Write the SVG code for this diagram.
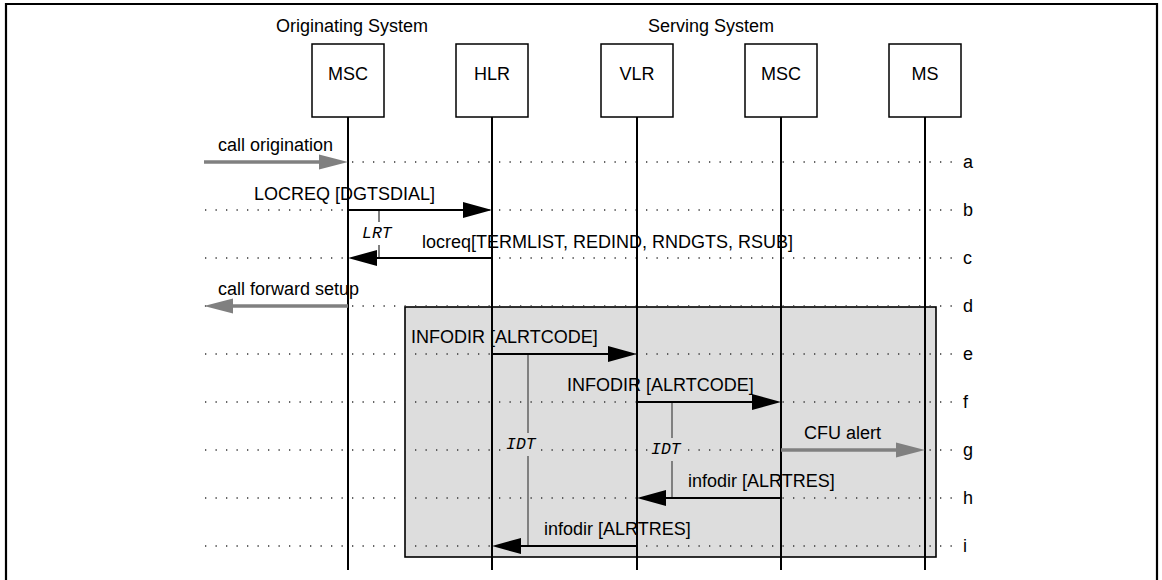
<svg xmlns="http://www.w3.org/2000/svg" width="1162" height="580" viewBox="0 0 1162 580">
<style>
text{font-family:"Liberation Sans",Arial,sans-serif;font-size:18px;fill:#000}
.mid{text-anchor:middle}
.box{fill:#fff;stroke:#000;stroke-width:1.5}
.life{stroke:#000;stroke-width:2;fill:none}
.dot{stroke:#333;stroke-width:1.3;stroke-dasharray:1.3 9.2;fill:none}
.msg{stroke:#000;stroke-width:2;fill:none;marker-end:url(#ah)}
.gmsg{stroke:#808080;stroke-width:3.5;fill:none;marker-end:url(#gah)}
.timer{stroke:#808080;stroke-width:2;fill:none}
.tl{font-family:"Liberation Mono","Courier New",monospace;font-style:italic;font-size:16.5px}
.frame{stroke:#000;stroke-width:2.2;fill:none}
.region{fill:#dddddd;stroke:#000;stroke-width:1.6}
</style>
<defs>
<marker id="ah" markerUnits="userSpaceOnUse" markerWidth="30" markerHeight="17" refX="21" refY="8" orient="auto" overflow="visible">
<path d="M0,0 L29,8 L0,16 z" fill="#000"/>
</marker>
<marker id="gah" markerUnits="userSpaceOnUse" markerWidth="30" markerHeight="16" refX="19" refY="7.5" orient="auto" overflow="visible">
<path d="M0,0 L29,7.5 L0,15 z" fill="#808080"/>
</marker>
</defs>
<rect x="0" y="0" width="1162" height="580" fill="#fff"/>
<path class="frame" d="M6,580 V4 H1157 V580"/>
<g id="shaded-region">
<rect class="region" x="405" y="307" width="531" height="250"/>
</g>
<g id="rows">
<path class="dot" d="M205,162 H958 M205,210 H958 M205,258 H958 M205,306 H958 M205,354 H958 M205,402 H958 M205,450 H958 M205,498 H958 M205,546 H958"/>
<text x="963" y="168">a</text>
<text x="963" y="216">b</text>
<text x="963" y="264">c</text>
<text x="963" y="312">d</text>
<text x="963" y="360">e</text>
<text x="963" y="408">f</text>
<text x="963" y="456">g</text>
<text x="963" y="504">h</text>
<text x="963" y="552">i</text>
</g>
<text x="276" y="32">Originating System</text>
<text x="648" y="32">Serving System</text>
<g id="msc-orig">
<rect class="box" x="312" y="44" width="72" height="73"/>
<text class="mid" x="348" y="80">MSC</text>
<path class="life" d="M348,117 V570"/>
</g>
<g id="hlr">
<rect class="box" x="456" y="44" width="72" height="73"/>
<text class="mid" x="492" y="80">HLR</text>
<path class="life" d="M492,117 V570"/>
</g>
<g id="vlr">
<rect class="box" x="601" y="44" width="72" height="73"/>
<text class="mid" x="637" y="80">VLR</text>
<path class="life" d="M637,117 V570"/>
</g>
<g id="msc-serv">
<rect class="box" x="745" y="44" width="72" height="73"/>
<text class="mid" x="781" y="80">MSC</text>
<path class="life" d="M781,117 V570"/>
</g>
<g id="ms">
<rect class="box" x="889" y="44" width="72" height="73"/>
<text class="mid" x="925" y="80">MS</text>
<path class="life" d="M925,117 V570"/>
</g>
<g id="connectors">
<path class="gmsg" d="M204,162 H338"/>
<text x="218" y="151">call origination</text>
<path class="msg" d="M348,210 H484"/>
<text x="254" y="200">LOCREQ [DGTSDIAL]</text>
<path class="msg" d="M492,258 H356"/>
<text x="422" y="248">locreq[TERMLIST, REDIND, RNDGTS, RSUB]</text>
<path class="gmsg" d="M348,306 H214"/>
<text x="218" y="295">call forward setup</text>
<path class="msg" d="M492,354 H629"/>
<text x="411" y="343">INFODIR [ALRTCODE]</text>
<path class="msg" d="M637,402 H773"/>
<text x="567" y="391">INFODIR [ALRTCODE]</text>
<path class="gmsg" d="M781,450 H915"/>
<text x="804" y="439">CFU alert</text>
<path class="msg" d="M781,498 H645"/>
<text x="688" y="487">infodir [ALRTRES]</text>
<path class="msg" d="M637,546 H500"/>
<text x="544" y="535">infodir [ALRTRES]</text>
</g>
<g id="timer-lrt">
<path class="timer" d="M379,211 V222 M379,245 V257"/>
<text class="tl" x="362" y="238">LRT</text>
</g>
<g id="timer-idt1">
<rect x="503" y="434" width="38" height="21" fill="#dddddd"/>
<path class="timer" d="M528,355 V433 M528,456 V545"/>
<text class="tl" x="506" y="449">IDT</text>
</g>
<g id="timer-idt2">
<rect x="648" y="439" width="38" height="21" fill="#dddddd"/>
<path class="timer" d="M672,403 V438 M672,461 V497"/>
<text class="tl" x="651" y="454">IDT</text>
</g>
</svg>
